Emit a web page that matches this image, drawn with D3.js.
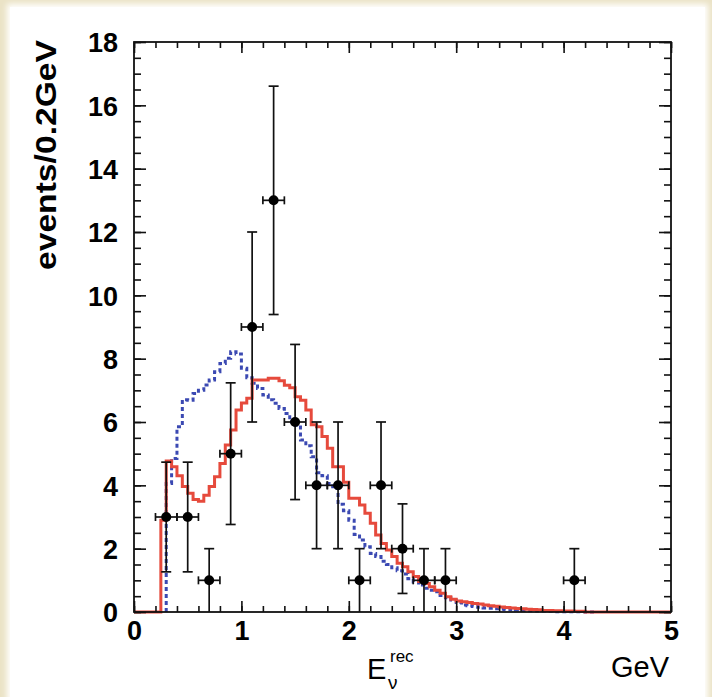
<!DOCTYPE html>
<html><head><meta charset="utf-8">
<script src="https://cdn.jsdelivr.net/npm/d3@7"></script>
<style>
html,body{margin:0;padding:0;background:#ebe3c6;}
#wrap{position:absolute;left:10px;top:7px;width:695px;height:700px;background:#fff;box-shadow:0 0 6px 3px #fff;}
svg{position:absolute;left:0;top:0;}
text{font-family:"Liberation Sans",Arial,Helvetica,sans-serif;fill:#000;}
</style></head>
<body><div id="wrap"></div>
<svg id="chart" width="712" height="697"></svg>
<script>
// ---- data ----
const binWidth = 0.05;           // GeV
const xTickLabels = [0, 1, 2, 3, 4, 5];
const yTickLabels = [0, 2, 4, 6, 8, 10, 12, 14, 16, 18];
// red solid histogram, bins of 0.05 GeV starting at 0
const redValues = [
 0,0,0,0,0, 2.9,4.77,4.59,4.30,3.96,
 3.75,3.55,3.50,3.69,3.96, 4.27,4.69,5.27,5.75,6.38,
 6.6,6.75,7.33,7.33,7.33, 7.38,7.38,7.30,7.16,7.08,
 6.80,6.69,6.38,5.91,5.85, 5.54,5.17,4.59,4.59,4.10,
 3.59,3.59,3.38,3.12,2.80, 2.43,2.16,1.96,1.75,1.54,
 1.43,1.27,1.12,0.96,0.90, 0.80,0.69,0.59,0.48,0.40,
 0.35,0.32,0.30,0.27,0.25, 0.22,0.20,0.18,0.16,0.14,
 0.13,0.11,0.10,0.09,0.08, 0.07,0.05,0.05,0.04,0.04,
 0.03,0.03,0.02,0.02,0, 0,0,0,0,0,
 0,0,0,0,0, 0,0,0,0,0
];
// blue dotted histogram, bins of 0.05 GeV starting at 0
const blueValues = [
 0,0,0,0,0, 0,4.06,4.85,5.85,6.70,
 6.69,6.90,7.00,7.17,7.33, 7.59,7.85,8.01,8.22,8.15,
 7.70,7.40,7.22,7.06,6.85, 6.70,6.59,6.43,6.27,6.00,
 5.90,5.43,5.25,4.90,4.40, 4.30,4.06,3.90,3.40,3.20,
 2.90,2.45,2.27,2.06,1.85, 1.75,1.60,1.50,1.40,1.30,
 1.20,1.05,0.95,0.85,0.75, 0.69,0.64,0.52,0.45,0.38,
 0.30,0.22,0.20,0.17,0.15, 0.13,0.12,0.10,0.09,0.08,
 0.07,0.06,0.05,0.04,0.04, 0.03,0.03,0.02,0.01,0.01,
 0.01,0.01,0.01,0.01,0, 0,0,0,0,0,
 0,0,0,0,0, 0,0,0,0,0
];
// data points
const dataE = [0.3,0.5,0.7,0.9,1.1,1.3,1.5,1.7,1.9,2.1,2.3,2.5,2.7,2.9,4.1];
const dataN = [3,3,1,5,9,13,6,4,4,1,4,2,1,1,1];
const dataXErr = 0.1;

// ---- layout ----
const L = 134, R = 671, T = 42, B = 612;
const svg = d3.select("#chart");
const x = d3.scaleLinear().domain([0, 5]).range([L, R]);
const y = d3.scaleLinear().domain([0, 18]).range([B, T]);

// histograms
function stepPoints(vals, startIdx, endIdx) {
  const pts = [[startIdx * binWidth, 0]];
  for (let i = startIdx; i < endIdx; i++) pts.push([i * binWidth, vals[i]]);
  pts.push([endIdx * binWidth, vals[endIdx - 1]]);
  return pts;
}
const line = d3.line().x(d => x(d[0])).y(d => y(d[1])).curve(d3.curveStepAfter);

svg.append("path").attr("d", line(stepPoints(blueValues, 6, 86)))
  .attr("fill", "none").attr("stroke", "#3b49b2").attr("stroke-width", 3)
  .attr("stroke-dasharray", "4,3");
svg.append("path").attr("d", line(stepPoints(redValues, 0, 100)))
  .attr("fill", "none").attr("stroke", "#e64a3c").attr("stroke-width", 3);

// frame + axes
const tickCol = "#111";
function styleAxis(g) {
  g.select(".domain").remove();
  g.selectAll("line").attr("stroke", tickCol).attr("stroke-width", 1.6);
}
const xMinor = d3.range(0, 5.0001, 0.2);
const yMinor = d3.range(0, 18.0001, 0.5);

// bottom
svg.append("g").attr("transform", `translate(0,${B})`)
  .call(d3.axisBottom(x).tickValues(xMinor).tickSize(-6).tickFormat(""))
  .call(styleAxis);
svg.append("g").attr("transform", `translate(0,${B})`)
  .call(d3.axisBottom(x).tickValues(xTickLabels).tickSize(-11).tickPadding(9).tickFormat(d3.format("d")))
  .call(styleAxis)
  .selectAll("text").attr("font-size", 27).attr("font-weight", "bold");
// top
svg.append("g").attr("transform", `translate(0,${T})`)
  .call(d3.axisTop(x).tickValues(xMinor).tickSize(-6).tickFormat("")).call(styleAxis);
svg.append("g").attr("transform", `translate(0,${T})`)
  .call(d3.axisTop(x).tickValues(xTickLabels).tickSize(-11).tickFormat("")).call(styleAxis);
// left
svg.append("g").attr("transform", `translate(${L},0)`)
  .call(d3.axisLeft(y).tickValues(yMinor).tickSize(-7).tickFormat("")).call(styleAxis);
svg.append("g").attr("transform", `translate(${L},0)`)
  .call(d3.axisLeft(y).tickValues(yTickLabels).tickSize(-12).tickPadding(16).tickFormat(d3.format("d")))
  .call(styleAxis)
  .selectAll("text").attr("font-size", 27).attr("font-weight", "bold").attr("dy", "0.36em");
// right
svg.append("g").attr("transform", `translate(${R},0)`)
  .call(d3.axisRight(y).tickValues(yMinor).tickSize(-7).tickFormat("")).call(styleAxis);
svg.append("g").attr("transform", `translate(${R},0)`)
  .call(d3.axisRight(y).tickValues(yTickLabels).tickSize(-12).tickFormat("")).call(styleAxis);

svg.append("rect").attr("x", L).attr("y", T).attr("width", R - L).attr("height", B - T)
  .attr("fill", "none").attr("stroke", tickCol).attr("stroke-width", 1.8);

// data points with error bars
const pts = svg.append("g");
const cap = 5, capV = 4;
dataE.forEach((e, i) => {
  const n = dataN[i], err = Math.sqrt(n);
  const cx = x(e), cy = y(n);
  const g = pts.append("g").attr("stroke", "#111").attr("stroke-width", 1.7);
  g.append("line").attr("x1", cx).attr("x2", cx).attr("y1", y(n - err)).attr("y2", y(n + err));
  g.append("line").attr("x1", cx - cap).attr("x2", cx + cap).attr("y1", y(n + err)).attr("y2", y(n + err));
  if (n - err > 0.001) g.append("line").attr("x1", cx - cap).attr("x2", cx + cap).attr("y1", y(n - err)).attr("y2", y(n - err));
  g.append("line").attr("x1", x(e - dataXErr)).attr("x2", x(e + dataXErr)).attr("y1", cy).attr("y2", cy);
  g.append("line").attr("x1", x(e - dataXErr)).attr("x2", x(e - dataXErr)).attr("y1", cy - capV).attr("y2", cy + capV);
  g.append("line").attr("x1", x(e + dataXErr)).attr("x2", x(e + dataXErr)).attr("y1", cy - capV).attr("y2", cy + capV);
  pts.append("circle").attr("cx", cx).attr("cy", cy).attr("r", 5).attr("fill", "#000");
});

// axis titles
svg.append("text").attr("transform", `translate(56,${T - 2}) rotate(-90)`)
  .attr("text-anchor", "end").attr("font-size", 30).attr("font-weight", "bold")
  .attr("textLength", 230).attr("lengthAdjust", "spacingAndGlyphs").text("events/0.2GeV");
svg.append("text").attr("x", R - 2).attr("y", 677).attr("text-anchor", "end")
  .attr("font-size", 29).text("GeV");
const xt = svg.append("text").attr("x", 367).attr("y", 679).attr("font-size", 29);
xt.append("tspan").text("E");
xt.append("tspan").attr("x", 388).attr("y", 689).attr("font-size", 19).text("ν");
xt.append("tspan").attr("x", 390).attr("y", 662).attr("font-size", 17).text("rec");
</script>
</body></html>
